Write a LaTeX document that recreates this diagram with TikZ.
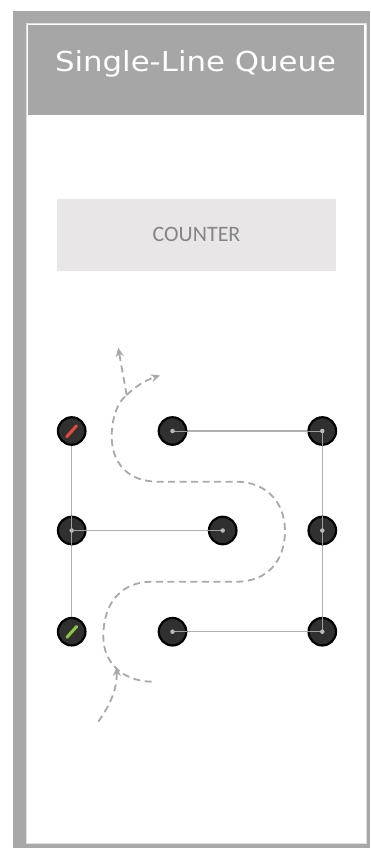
\documentclass[tikz,border=0pt]{standalone}
\usepackage{fontspec}
\setmainfont{DejaVu Sans}
\newfontfamily\titlefont{DejaVu Sans}
\newfontfamily\counterfont{Carlito}
\usetikzlibrary{arrows.meta}
\definecolor{framegray}{HTML}{A8A8A8}
\definecolor{headgray}{HTML}{A6A6A6}
\definecolor{panelline}{HTML}{DEDEDE}
\definecolor{counterfill}{HTML}{E8E6E6}
\definecolor{countertext}{HTML}{858585}
\definecolor{postfill}{HTML}{303030}
\definecolor{ropegray}{HTML}{B0B0B0}
\definecolor{pathgray}{HTML}{A9A9A9}
\definecolor{redmark}{HTML}{E8473C}
\definecolor{greenmark}{HTML}{8CC63F}
\begin{document}
\begin{tikzpicture}[x=1pt,y=-1pt,
  post/.style={circle, draw=black, line width=2.2pt, fill=postfill, minimum size=27.5pt, inner sep=0pt},
  rope/.style={draw=ropegray, line width=1.5pt},
  ropein/.style={draw=gray!75, line width=0.5pt},
  hub/.style={circle, fill=gray!55, minimum size=4.5pt, inner sep=0pt},
  walk/.style={draw=pathgray, line width=1.8pt, dash pattern=on 7pt off 4.5pt},
  tip/.style={-{Stealth[length=9pt,width=8pt]}},
  tickmark/.style={line width=3pt, line cap=round}
]
\useasboundingbox (0,0) rectangle (370,848);
\fill[white] (0,0) rectangle (370,848);
% frame
\fill[framegray] (13,11) rectangle (370,848);
\filldraw[fill=white, draw=panelline, line width=0.8pt] (26,23) rectangle (366,843);
\fill[headgray] (28,25) rectangle (364,115);
\node[anchor=base, text=white, font=\titlefont\fontsize{27.5}{32}\selectfont] (title) at (195.5,72) {\scalebox{1.12}[1]{Single-Line Queue}};
% counter
\node[fill=counterfill, minimum width=279pt, minimum height=72pt, inner sep=0pt,
      text=countertext, font=\counterfont\fontsize{22}{25}\selectfont] (counter) at (196.5,234.5) {COUNTER};
% ropes
\coordinate (c11) at (71.7,431);   \coordinate (c12) at (172.5,431);  \coordinate (c13) at (322.3,431);
\coordinate (c21) at (71.7,530.5); \coordinate (c22) at (222.7,530.5);\coordinate (c23) at (322.3,530.5);
\coordinate (c31) at (71.7,631.7); \coordinate (c32) at (172.5,631.7);\coordinate (c33) at (322.3,631.7);
\draw[rope] (c11) -- (c21) -- (c31);
\draw[rope] (c12) -- (c13) -- (c23) -- (c33);
\draw[rope] (c21) -- (c22);
\draw[rope] (c32) -- (c33);
% posts
\foreach \n in {11,12,13,21,22,23,31,32,33}{
  \node[post] (p\n) at (c\n) {};
}
\foreach \a/\b in {12/east,13/west,13/south,23/north,23/south,21/north,21/south,21/east,22/west,32/east,33/west,33/north}{
  \draw[ropein] (p\a.center) -- (p\a.\b);
}
\foreach \n in {12,13,21,22,23,32,33}{
  \node[hub] (h\n) at (c\n) {};
}
\draw[tickmark, redmark] ([shift={(-5,5.8)}]p11.center) -- ([shift={(4.8,-5.2)}]p11.center);
\draw[tickmark, greenmark] ([shift={(-4.8,5.6)}]p31.center) -- ([shift={(5,-5.2)}]p31.center);
% walking path
\coordinate (hookend) at (151.7,681.7);
\coordinate (junction) at (126.7,395);
\coordinate (exitA) at (118.3,347.7);
\coordinate (exitB) at (160,375.5);
\coordinate (entry) at (98.3,721.7);
\coordinate (entrytip) at (116.7,667);
\draw[walk] (hookend) .. controls (122,681) and (103,662) .. (103.3,636)
  .. controls (103.5,602) and (122,581.7) .. (152,581.7) -- (236.7,581.7)
  .. controls (268,581.7) and (285,560) .. (285,531)
  .. controls (285,502) and (266,481.7) .. (236,481.7) -- (158,481.7)
  .. controls (127,481.7) and (111.5,462) .. (111.7,436)
  .. controls (112,416) and (118,402) .. (junction);
\draw[walk, tip] (junction) .. controls (124,380) and (121,364) .. (exitA);
\draw[walk, tip] (junction) .. controls (136,386) and (146,380) .. (exitB);
\draw[walk, tip] (entry) .. controls (110,705) and (117,690) .. (entrytip);
\end{tikzpicture}
\end{document}
